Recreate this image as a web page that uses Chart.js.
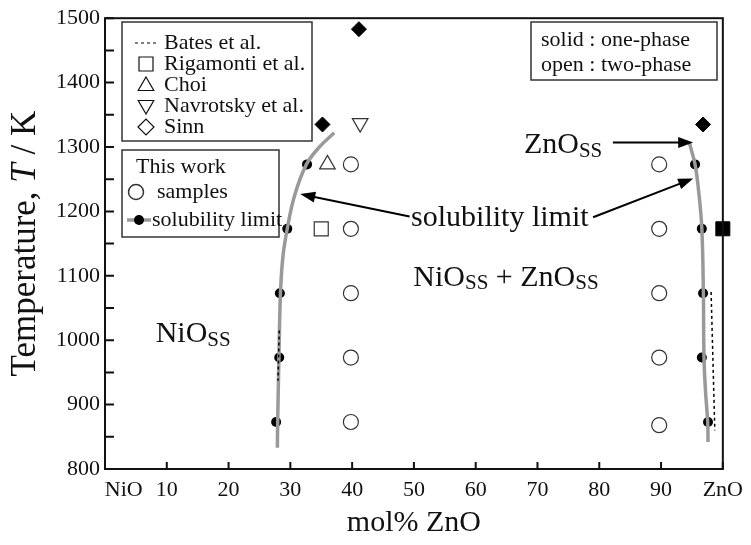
<!DOCTYPE html>
<html><head><meta charset="utf-8">
<script src="https://cdn.jsdelivr.net/npm/chart.js@4.4.1/dist/chart.umd.min.js"></script>
<style>html,body{margin:0;padding:0;background:#fff}</style>
</head><body>
<canvas id="c" width="751" height="545"></canvas>
<script>
// ---------- data (mol% ZnO, temperature K) ----------
const xTickNames = {0: '\u2002\u2002\u2002\u2009NiO', 100: 'ZnO'};
const yTickStep = 100;
const xTickStep = 10;

const leftCurveX = [27.9, 27.95, 28.15, 28.4, 28.8, 29.5, 30.7, 32.6, 34.8, 37.1];
const leftCurveT = [833, 873, 973, 1073, 1130, 1173, 1225, 1273, 1301, 1322];
const rightCurveX = [97.6, 97.55, 97.2, 96.95, 96.85, 96.6, 96.1, 95.5, 94.6];
const rightCurveT = [842, 873, 920, 973, 1073, 1173, 1230, 1273, 1306];

const limitX = [32.7, 29.5, 28.3, 28.2, 27.7, 95.5, 96.6, 96.8, 96.6, 97.6];
const limitT = [1273, 1173, 1073, 973, 873, 1273, 1173, 1073, 973, 873];

const sampleX = [39.8, 39.8, 39.8, 39.8, 39.8, 89.7, 89.7, 89.7, 89.7, 89.7];
const sampleT = [1273, 1173, 1073, 973, 873, 1273, 1173, 1073, 973, 868];

const batesLeftX = [28.2, 28.1, 28.0];
const batesLeftT = [1015, 975, 937];
const batesRightX = [98.1, 98.4, 98.7];
const batesRightT = [1075, 968, 860];

const rigamontiOpenX = [35.0];   const rigamontiOpenT = [1173];
const rigamontiSolidX = [100];   const rigamontiSolidT = [1173];
const choiX = [36.0];            const choiT = [1273];
const navrotskyX = [41.3];       const navrotskyT = [1337];
const sinnX = [41.1, 35.2, 96.8]; const sinnT = [1483, 1335, 1335];

const legendEntries = ['Bates et al.', 'Rigamonti et al.', 'Choi', 'Navrotsky et al.', 'Sinn'];

const zip = (xs, ys) => xs.map((x, i) => ({x: x, y: ys[i]}));

// ---------- styling / annotation config ----------
const SERIF = '"Liberation Serif","Times New Roman",serif';
const notes = {
  solubility: {x: 63.9, y: 1190},
  twoPhase: {x: 64.9, y: 1097},
  znoSS: {x: 67.8, y: 1303},
  nioSS: {x: 8.2, y: 1009},
  arrowZnO: [[82.2, 1307], [95.2, 1307]],
  arrowLeft: [[49.3, 1192], [31.6, 1227]],
  arrowRight: [[79.0, 1191], [95.2, 1251]]
};

function subText(ctx, parts, x, y, align, size) {
  const big = size + 'px ' + SERIF, small = Math.round(size * 0.7) + 'px ' + SERIF;
  let w = 0;
  parts.forEach(p => { ctx.font = p[1] ? small : big; w += ctx.measureText(p[0]).width; });
  let cx = align === 'center' ? x - w / 2 : x;
  ctx.textAlign = 'left';
  ctx.textBaseline = 'middle';
  parts.forEach(p => {
    ctx.font = p[1] ? small : big;
    ctx.fillText(p[0], cx, p[1] ? y + size * 0.2 : y);
    cx += ctx.measureText(p[0]).width;
  });
}

function arrow(ctx, x1, y1, x2, y2) {
  const a = Math.atan2(y2 - y1, x2 - x1), L = 15, H = 5.5;
  ctx.beginPath();
  ctx.moveTo(x1, y1);
  ctx.lineTo(x2 - Math.cos(a) * L * 0.8, y2 - Math.sin(a) * L * 0.8);
  ctx.lineWidth = 2;
  ctx.strokeStyle = '#000';
  ctx.stroke();
  ctx.beginPath();
  ctx.moveTo(x2, y2);
  ctx.lineTo(x2 - Math.cos(a) * L - Math.sin(a) * H, y2 - Math.sin(a) * L + Math.cos(a) * H);
  ctx.lineTo(x2 - Math.cos(a) * L + Math.sin(a) * H, y2 - Math.sin(a) * L - Math.cos(a) * H);
  ctx.closePath();
  ctx.fillStyle = '#000';
  ctx.fill();
}

const deco = {
  id: 'deco',
  afterDatasetsDraw(chart) {
    const ctx = chart.ctx, xs = chart.scales.x, ys = chart.scales.y;
    const px = v => xs.getPixelForValue(v), py = v => ys.getPixelForValue(v);
    ctx.save();
    // annotations
    ctx.fillStyle = '#111';
    subText(ctx, [['solubility limit', false]], px(notes.solubility.x), py(notes.solubility.y), 'center', 30);
    subText(ctx, [['NiO', false], ['SS', true], [' + ZnO', false], ['SS', true]], px(notes.twoPhase.x), py(notes.twoPhase.y), 'center', 30);
    subText(ctx, [['ZnO', false], ['SS', true]], px(notes.znoSS.x), py(notes.znoSS.y), 'left', 30);
    subText(ctx, [['NiO', false], ['SS', true]], px(notes.nioSS.x), py(notes.nioSS.y), 'left', 30);
    [notes.arrowZnO, notes.arrowLeft, notes.arrowRight].forEach(a =>
      arrow(ctx, px(a[0][0]), py(a[0][1]), px(a[1][0]), py(a[1][1])));

    // legend box 1 (literature)
    ctx.lineWidth = 1.5; ctx.strokeStyle = '#333'; ctx.fillStyle = '#fff';
    ctx.fillRect(122, 22, 190, 119); ctx.strokeRect(122, 22, 190, 119);
    const rows = [43, 64, 85, 106, 127];
    ctx.font = '22px ' + SERIF; ctx.textAlign = 'left'; ctx.textBaseline = 'middle';
    ctx.fillStyle = '#111';
    legendEntries.forEach((t, i) => ctx.fillText(t, 164, rows[i]));
    ctx.setLineDash([3, 3]); ctx.lineWidth = 1.2; ctx.strokeStyle = '#000';
    ctx.beginPath(); ctx.moveTo(135, rows[0]); ctx.lineTo(158, rows[0]); ctx.stroke();
    ctx.setLineDash([]);
    const H = Chart.helpers;
    ctx.fillStyle = '#fff'; ctx.strokeStyle = '#111'; ctx.lineWidth = 1.2;
    H.drawPoint(ctx, {pointStyle: 'rect', radius: 9.9, rotation: 0, borderWidth: 1.2}, 146, rows[1]);
    H.drawPoint(ctx, {pointStyle: 'triangle', radius: 9, rotation: 0, borderWidth: 1.2}, 146, rows[2] + 1);
    H.drawPoint(ctx, {pointStyle: 'triangle', radius: 9, rotation: 180, borderWidth: 1.2}, 146, rows[3] - 1);
    H.drawPoint(ctx, {pointStyle: 'rectRot', radius: 8, rotation: 0, borderWidth: 1.2}, 146, rows[4]);

    // legend box 2 (this work)
    ctx.fillStyle = '#fff'; ctx.strokeStyle = '#333'; ctx.lineWidth = 1.5;
    ctx.fillRect(122, 150, 157, 87); ctx.strokeRect(122, 150, 157, 87);
    ctx.fillStyle = '#111'; ctx.font = '22px ' + SERIF;
    ctx.fillText('This work', 136, 167);
    ctx.fillText('samples', 157, 192);
    ctx.fillText('solubility limit', 152, 220);
    ctx.fillStyle = '#fff'; ctx.strokeStyle = '#333';
    H.drawPoint(ctx, {pointStyle: 'circle', radius: 7.5, rotation: 0, borderWidth: 1.2}, 136, 192);
    ctx.strokeStyle = '#999'; ctx.lineWidth = 3.5;
    ctx.beginPath(); ctx.moveTo(127, 220); ctx.lineTo(151, 220); ctx.stroke();
    ctx.fillStyle = '#000';
    ctx.beginPath(); ctx.arc(139, 220, 5, 0, Math.PI * 2); ctx.fill();

    // legend box 3 (solid / open)
    ctx.fillStyle = '#fff'; ctx.strokeStyle = '#333'; ctx.lineWidth = 1.5;
    ctx.fillRect(531, 22, 186, 58); ctx.strokeRect(531, 22, 186, 58);
    ctx.fillStyle = '#111'; ctx.font = '22px ' + SERIF;
    ctx.fillText('solid : one-phase', 541, 40);
    ctx.fillText('open : two-phase', 541, 65);
    ctx.restore();
  },
  afterDraw(chart) {
    const ctx = chart.ctx, a = chart.chartArea, xs = chart.scales.x, ys = chart.scales.y;
    ctx.save();
    ctx.strokeStyle = '#111';
    ctx.lineWidth = 2;
    ctx.strokeRect(a.left, a.top, a.right - a.left, a.bottom - a.top);
    ctx.beginPath();
    for (let v = ys.min; v <= ys.max; v += yTickStep / 2) {
      const y = ys.getPixelForValue(v);
      ctx.moveTo(a.left, y); ctx.lineTo(a.left + 9, y);
    }
    for (let v = xs.min; v <= xs.max; v += xTickStep) {
      const x = xs.getPixelForValue(v);
      ctx.moveTo(x, a.bottom); ctx.lineTo(x, a.bottom - 7);
    }
    ctx.stroke();
    // y axis title with italic T
    ctx.translate(26, (a.top + a.bottom) / 2);
    ctx.rotate(-Math.PI / 2);
    const parts = [['Temperature, ', '35px ' + SERIF], ['T', 'italic 35px ' + SERIF], [' / K', '35px ' + SERIF]];
    let w = 0;
    parts.forEach(p => { ctx.font = p[1]; w += ctx.measureText(p[0]).width; });
    let cx = -w / 2;
    ctx.fillStyle = '#111'; ctx.textBaseline = 'middle'; ctx.textAlign = 'left';
    parts.forEach(p => { ctx.font = p[1]; ctx.fillText(p[0], cx, 0); cx += ctx.measureText(p[0]).width; });
    ctx.restore();
  }
};

const common = {clip: false, showLine: false};
new Chart(document.getElementById('c'), {
  type: 'scatter',
  data: {
    datasets: [
      Object.assign({}, common, {label: 'Bates et al.', data: zip(batesLeftX, batesLeftT), showLine: true,
        borderColor: '#000', borderWidth: 1.5, borderDash: [3, 3], pointRadius: 0}),
      Object.assign({}, common, {label: 'Bates et al. (ZnO side)', data: zip(batesRightX, batesRightT), showLine: true,
        borderColor: '#000', borderWidth: 1.5, borderDash: [3, 3], pointRadius: 0}),
      Object.assign({}, common, {label: 'solubility limit (NiO side)', data: zip(leftCurveX, leftCurveT), showLine: true,
        borderColor: '#999', borderWidth: 3.5, tension: 0.4, pointRadius: 0}),
      Object.assign({}, common, {label: 'solubility limit (ZnO side)', data: zip(rightCurveX, rightCurveT), showLine: true,
        borderColor: '#999', borderWidth: 3.5, tension: 0.4, pointRadius: 0}),
      Object.assign({}, common, {label: 'solubility limit points', data: zip(limitX, limitT),
        pointRadius: 5, backgroundColor: '#000', borderColor: '#000', borderWidth: 0}),
      Object.assign({}, common, {label: 'samples', data: zip(sampleX, sampleT),
        pointRadius: 7.5, backgroundColor: '#fff', borderColor: '#333', borderWidth: 1.2}),
      Object.assign({}, common, {label: 'Rigamonti et al. (two-phase)', data: zip(rigamontiOpenX, rigamontiOpenT),
        pointStyle: 'rect', pointRadius: 9.9, backgroundColor: '#fff', borderColor: '#333', borderWidth: 1.2}),
      Object.assign({}, common, {label: 'Rigamonti et al. (one-phase)', data: zip(rigamontiSolidX, rigamontiSolidT),
        pointStyle: 'rect', pointRadius: 9.9, backgroundColor: '#000', borderColor: '#000', borderWidth: 1}),
      Object.assign({}, common, {label: 'Choi', data: zip(choiX, choiT),
        pointStyle: 'triangle', pointRadius: 9, backgroundColor: '#fff', borderColor: '#333', borderWidth: 1.2}),
      Object.assign({}, common, {label: 'Navrotsky et al.', data: zip(navrotskyX, navrotskyT),
        pointStyle: 'triangle', rotation: 180, pointRadius: 9, backgroundColor: '#fff', borderColor: '#333', borderWidth: 1.2}),
      Object.assign({}, common, {label: 'Sinn', data: zip(sinnX, sinnT),
        pointStyle: 'rectRot', pointRadius: 7.5, backgroundColor: '#000', borderColor: '#000', borderWidth: 1})
    ]
  },
  options: {
    responsive: false,
    animation: false,
    layout: {padding: {top: 14, right: 24, left: 0, bottom: 0}},
    plugins: {legend: {display: false}, tooltip: {enabled: false}},
    scales: {
      x: {
        type: 'linear', min: 0, max: 100,
        afterFit: s => { s.height = 76; },
        grid: {display: false, drawTicks: false},
        border: {display: false},
        ticks: {stepSize: xTickStep, padding: 8, color: '#111', font: {family: SERIF, size: 22},
          maxRotation: 0, minRotation: 0, autoSkip: false,
          callback: v => (xTickNames[v] !== undefined ? xTickNames[v] : String(v))},
        title: {display: true, text: 'mol% ZnO', color: '#111', font: {family: SERIF, size: 30}, padding: {top: 0, bottom: 4}}
      },
      y: {
        type: 'linear', min: 800, max: 1500,
        afterFit: s => { s.width = 105; },
        grid: {display: false, drawTicks: false},
        border: {display: false},
        ticks: {stepSize: yTickStep, padding: 5, color: '#111', font: {family: SERIF, size: 22},
          callback: v => String(v)}
      }
    }
  },
  plugins: [deco]
});
</script>
</body></html>
